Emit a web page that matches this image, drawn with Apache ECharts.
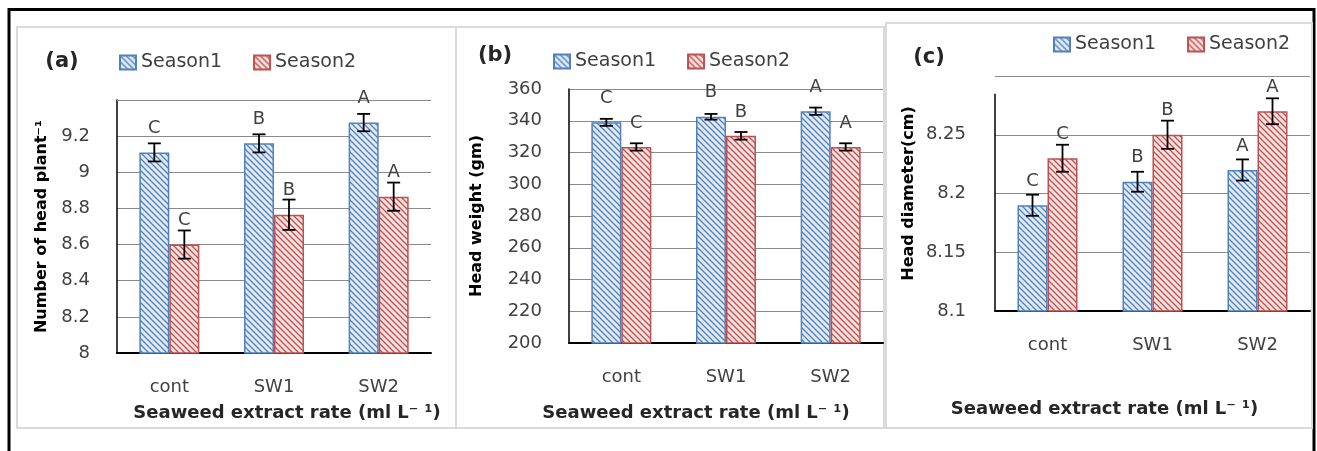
<!DOCTYPE html>
<html>
<head>
<meta charset="utf-8">
<script src="https://cdn.jsdelivr.net/npm/echarts@6/dist/echarts.min.js"></script>
<style>
html,body{margin:0;padding:0;background:#fff;}
#c{width:1317px;height:451px;}
</style>
</head>
<body>
<div id="c"></div>
<script>
// ---------- data ----------
const categories = ['cont', 'SW1', 'SW2'];
const seriesNames = ['Season1', 'Season2'];

// (a) Number of head plant-1
const aSeason1 = [9.11, 9.16, 9.275];
const aSeason1Err = [0.05, 0.05, 0.048];
const aSeason2 = [8.6, 8.765, 8.865];
const aSeason2Err = [0.078, 0.084, 0.078];
const aLetters1 = ['C', 'B', 'A'];
const aLetters2 = ['C', 'B', 'A'];
const aTicks = { min: 8, max: 9.4, interval: 0.2 };

// (b) Head weight (gm)
const bSeason1 = [339, 342.5, 346];
const bSeason1Err = [2.2, 1.8, 2.3];
const bSeason2 = [323.5, 330.5, 323.5];
const bSeason2Err = [2.3, 2.4, 2.3];
const bLetters1 = ['C', 'B', 'A'];
const bLetters2 = ['C', 'B', 'A'];
const bTicks = { min: 200, max: 360, interval: 20 };

// (c) Head diameter (cm)
const cSeason1 = [8.19, 8.21, 8.22];
const cSeason1Err = [0.009, 0.0085, 0.009];
const cSeason2 = [8.23, 8.25, 8.27];
const cSeason2Err = [0.0115, 0.012, 0.011];
const cLetters1 = ['C', 'B', 'A'];
const cLetters2 = ['C', 'B', 'A'];
const cTicks = { min: 8.1, max: 8.3, interval: 0.05 };

const panelLabels = ['(a)', '(b)', '(c)'];
const yTitles = ['Number of head plant\u207B\u00B9', 'Head weight (gm)', 'Head diameter(cm)'];
const xTitle = 'Seaweed extract rate (ml L\u207B \u00B9)';

// ---------- styles ----------
const FONT = 'DejaVu Sans';
const BLUE = '#4f81bd', BLUE_BG = '#e3eaf5';
const RED = '#c0504d', RED_BG = '#f5e2e1';
const GRID_C = '#8a8a8a';
const BAR_W = 30;

function hatch(line, bg) {
  const s = 6;
  const cv = document.createElement('canvas');
  cv.width = s; cv.height = s;
  const g = cv.getContext('2d');
  g.fillStyle = bg; g.fillRect(0, 0, s, s);
  g.strokeStyle = line; g.lineWidth = 1.3;
  g.beginPath();
  for (const k of [-s, 0, s]) { g.moveTo(-1, -1 + k); g.lineTo(s + 1, s + 1 + k); }
  g.stroke();
  return { image: cv, repeat: 'repeat' };
}
const bluePat = hatch(BLUE, BLUE_BG);
const redPat = hatch(RED, RED_BG);

const panels = [
  { s1: aSeason1, e1: aSeason1Err, s2: aSeason2, e2: aSeason2Err, l1: aLetters1, l2: aLetters2, t: aTicks,
    grid: { left: 117, top: 100, width: 314, height: 253 }, hideTop: true, topLine: true,
    yGap: 67, xGap: 51, xPad: [0, 0, 0, 26], legend: { left: 119, top: 53 }, tag: { x: 62, y: 62 } },
  { s1: bSeason1, e1: bSeason1Err, s2: bSeason2, e2: bSeason2Err, l1: bLetters1, l2: bLetters2, t: bTicks,
    grid: { left: 569, top: 89, width: 314, height: 254 }, hideTop: false, topLine: false,
    yGap: 84, xGap: 61, xPad: [0, 60, 0, 0], legend: { left: 553, top: 52 }, tag: { x: 495, y: 56 } },
  { s1: cSeason1, e1: cSeason1Err, s2: cSeason2, e2: cSeason2Err, l1: cLetters1, l2: cLetters2, t: cTicks,
    grid: { left: 995, top: 76, width: 315, height: 235 }, hideTop: true, topLine: false,
    yGap: 78, xGap: 89, xPad: [0, 96, 0, 0], legend: { left: 1053, top: 35 }, tag: { x: 929, y: 58 } }
];

function errRender(side) {
  return function (params, api) {
    const idx = api.value(0), m = api.value(1), e = api.value(2);
    const c = api.coord([idx, m]);
    const top = api.coord([idx, m + e])[1];
    const bot = api.coord([idx, m - e])[1];
    const x = c[0] + side * BAR_W / 2;
    const cap = 6.5;
    const st = { stroke: '#000', lineWidth: 1.8 };
    return {
      type: 'group', children: [
        { type: 'line', shape: { x1: x, y1: top, x2: x, y2: bot }, style: st },
        { type: 'line', shape: { x1: x - cap, y1: top, x2: x + cap, y2: top }, style: st },
        { type: 'line', shape: { x1: x - cap, y1: bot, x2: x + cap, y2: bot }, style: st }
      ]
    };
  };
}

const grids = [], xAxes = [], yAxes = [], series = [], legends = [], graphics = [];

// outer frame & panel frames
graphics.push({ type: 'rect', z: -10, shape: { x: 9, y: 9.5, width: 1305, height: 460 },
  style: { fill: 'none', stroke: '#000', lineWidth: 3 } });
[[17, 27, 439, 401], [456, 27, 428, 401], [886, 23, 426, 405]].forEach(r => {
  graphics.push({ type: 'rect', z: -9, shape: { x: r[0], y: r[1], width: r[2], height: r[3] },
    style: { fill: 'none', stroke: '#dadada', lineWidth: 2 } });
});

panels.forEach((p, i) => {
  grids.push(Object.assign({ containLabel: false }, p.grid));
  xAxes.push({
    gridIndex: i, type: 'category', data: categories,
    axisLine: { show: true, lineStyle: { color: '#000', width: 2 } },
    axisTick: { show: false },
    axisLabel: { color: '#404040', fontSize: 18, fontFamily: FONT, margin: 25 },
    name: xTitle, nameLocation: 'middle', nameGap: p.xGap,
    nameTextStyle: { fontWeight: 'bold', fontSize: 18, color: '#262626', fontFamily: FONT, padding: p.xPad }
  });
  yAxes.push({
    gridIndex: i, type: 'value', min: p.t.min, max: p.t.max, interval: p.t.interval,
    axisLine: { show: i !== 2, lineStyle: { color: '#000', width: 1.5 } },
    axisTick: { show: false },
    splitLine: { show: true, lineStyle: { color: GRID_C, width: 1.2 } },
    axisLabel: {
      color: '#404040', fontSize: 18, fontFamily: FONT, margin: i === 2 ? 29 : 27,
      formatter: v => (p.hideTop && Math.abs(v - p.t.max) < 1e-6) ? '' : String(+v.toFixed(4))
    },
    name: yTitles[i], nameLocation: 'middle', nameGap: p.yGap, nameRotate: 90,
    nameTextStyle: { fontWeight: 'bold', fontSize: 16, color: '#000', fontFamily: FONT }
  });
  const mk = (name, vals, letters, pat, lineC) => ({
    type: 'bar', name: name, xAxisIndex: i, yAxisIndex: i, data: vals,
    barWidth: BAR_W, barGap: '0%',
    itemStyle: { color: pat, borderColor: lineC, borderWidth: 1.5 },
    label: { show: true, position: 'top', distance: 15, color: '#404040', fontSize: 18, fontFamily: FONT,
      formatter: prm => letters[prm.dataIndex] },
    emphasis: { disabled: true }, z: 2
  });
  series.push(mk(seriesNames[0], p.s1, p.l1, bluePat, BLUE));
  series.push(mk(seriesNames[1], p.s2, p.l2, redPat, RED));
  series.push({ type: 'custom', name: 'err1', xAxisIndex: i, yAxisIndex: i, z: 5,
    renderItem: errRender(-1), data: p.s1.map((v, k) => [k, v, p.e1[k]]) });
  series.push({ type: 'custom', name: 'err2', xAxisIndex: i, yAxisIndex: i, z: 5,
    renderItem: errRender(1), data: p.s2.map((v, k) => [k, v, p.e2[k]]) });
  legends.push({
    data: seriesNames, left: p.legend.left, top: p.legend.top, orient: 'horizontal', padding: 0,
    itemWidth: 16, itemHeight: 14, itemGap: 31, icon: 'rect', selectedMode: false,
    textStyle: { color: '#404040', fontSize: 19, fontFamily: FONT }
  });
  graphics.push({ type: 'text', x: p.tag.x, y: p.tag.y,
    style: { text: panelLabels[i], font: 'bold 21px "DejaVu Sans"', fill: '#262626', align: 'center', verticalAlign: 'middle' } });
});

const chart = echarts.init(document.getElementById('c'), null, { renderer: 'canvas' });
chart.setOption({
  animation: false,
  backgroundColor: '#fff',
  textStyle: { fontFamily: FONT },
  grid: grids, xAxis: xAxes, yAxis: yAxes, series: series, legend: legends,
  graphic: { elements: graphics }
});

// panel (a): top gridline at the axis maximum
panels.forEach((p, i) => {
  if (!p.topLine) return;
  const y = Math.round(chart.convertToPixel({ yAxisIndex: i }, p.t.max)) + 0.5;
  graphics.push({ type: 'line', z: 1, shape: { x1: p.grid.left, y1: y, x2: p.grid.left + p.grid.width, y2: y },
    style: { stroke: GRID_C, lineWidth: 1.2 } });
});
// panel (c): y axis line stops short of the top gridline
const yTopC = chart.convertToPixel({ yAxisIndex: 2 }, 8.285);
const yBotC = chart.convertToPixel({ yAxisIndex: 2 }, cTicks.min);
const axX = panels[2].grid.left;
graphics.push({ type: 'line', z: 10, shape: { x1: axX, y1: yTopC, x2: axX, y2: yBotC },
  style: { stroke: '#000', lineWidth: 1.5 } });
chart.setOption({ graphic: { elements: graphics } });
</script>
</body>
</html>
